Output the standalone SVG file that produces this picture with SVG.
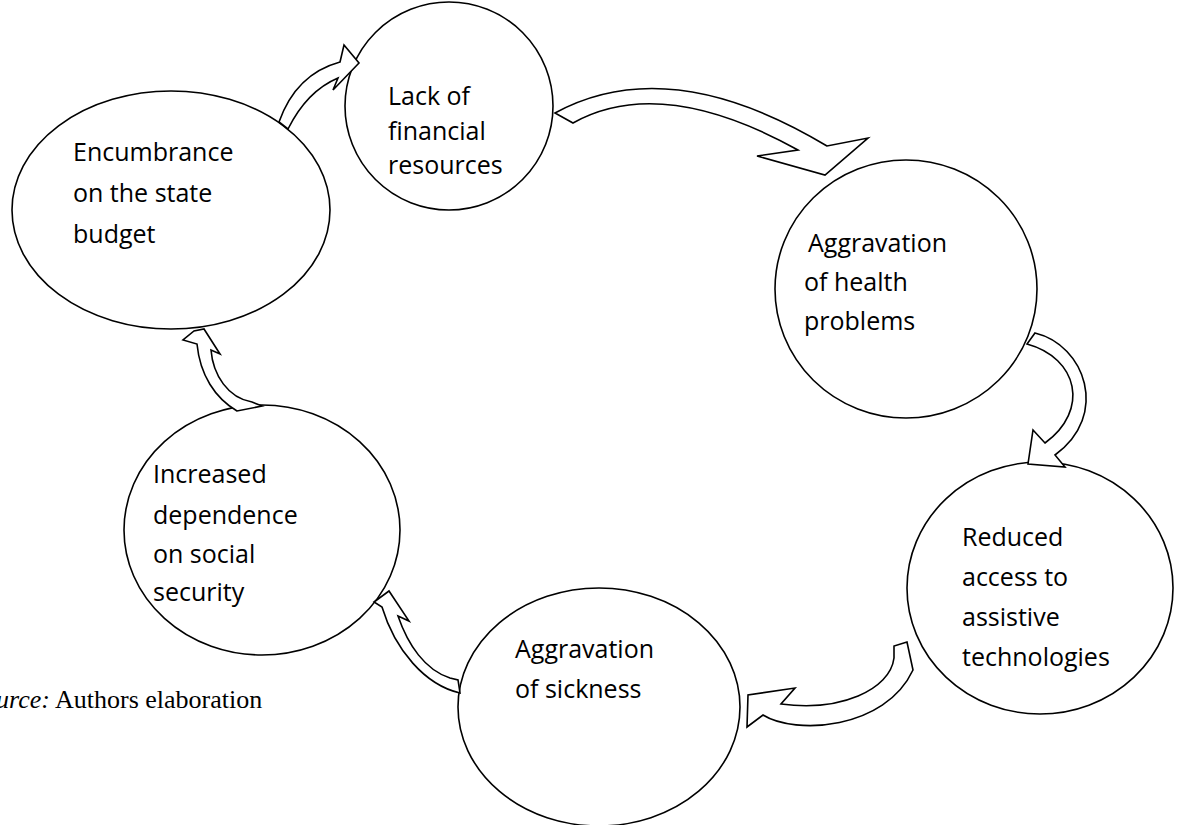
<svg xmlns="http://www.w3.org/2000/svg" width="1187" height="825" viewBox="0 0 1187 825">
<style>
.node{fill:#fff;stroke:#000;stroke-width:1.6}
.arr{fill:#fff;stroke:#000;stroke-width:1.6;stroke-linejoin:miter}
.lbl{font-family:"Open Sans","Noto Sans",sans-serif;font-size:25px;fill:#000}
.src{font-family:"Liberation Serif","Times New Roman",serif;font-size:26px;fill:#000}
</style>
<defs>
<clipPath id="clipDep"><rect x="120" y="405" width="280" height="203"/></clipPath>
</defs>
<rect width="1187" height="825" fill="#fff"/>
<g id="n-lack">
<ellipse class="node" cx="449" cy="106" rx="104" ry="104"/>
<text class="lbl"><tspan x="388" y="105">Lack of</tspan><tspan x="388" y="140">financial</tspan><tspan x="388" y="174">resources</tspan></text>
</g>
<g id="n-encumbrance">
<ellipse class="node" cx="171" cy="210" rx="159" ry="119"/>
<text class="lbl"><tspan x="73" y="161">Encumbrance</tspan><tspan x="73" y="202">on the state</tspan><tspan x="73" y="243">budget</tspan></text>
</g>
<g id="n-health">
<ellipse class="node" cx="906" cy="289" rx="131" ry="129"/>
<text class="lbl"><tspan x="808" y="252">Aggravation</tspan><tspan x="804" y="291">of health</tspan><tspan x="804" y="330">problems</tspan></text>
</g>
<g id="n-reduced">
<ellipse class="node" cx="1040" cy="588" rx="133" ry="126"/>
<text class="lbl"><tspan x="962" y="546">Reduced</tspan><tspan x="962" y="586">access to</tspan><tspan x="962" y="626">assistive</tspan><tspan x="962" y="666">technologies</tspan></text>
</g>
<g id="n-sickness">
<ellipse class="node" cx="599" cy="707" rx="141" ry="119"/>
<text class="lbl"><tspan x="515" y="658">Aggravation</tspan><tspan x="515" y="698">of sickness</tspan></text>
</g>
<g id="n-dependence">
<ellipse class="node" cx="262" cy="530" rx="138" ry="125"/>
<text class="lbl" clip-path="url(#clipDep)"><tspan x="153" y="483">Increased</tspan><tspan x="153" y="524">dependence</tspan><tspan x="153" y="563">on social</tspan><tspan x="153" y="601">security</tspan></text>
</g>
<g id="connectors">
<path class="arr" d="M279,122 Q296,74 340,62 L344,45 L359,63 L333,90 L338,78 Q307,91 288,129 Z"/>
<path class="arr" d="M555,113 Q669,51 827,146 L868,138 L825,175 L757,156 L798,150 Q661,74 573,123 Z"/>
<path class="arr" d="M1035,333 C1085,345 1110,415 1055,455 L1065,467 L1028,464 L1033,430 L1045,443 C1090,410 1078,358 1027,344 Z"/>
<path class="arr" d="M907,642 L894,646 L894,658 C890,690 840,712 781,704 L795,688 L748,695 L747,727 L763,715 C795,735 885,730 913,670 Z"/>
<path class="arr" d="M460,693 C425,685 395,650 382,607 L374,602 L389,591 L409,621 L398,616 C408,645 425,670 450,678 L458,680 Z"/>
<path class="arr" d="M237,411 C215,398 200,375 197,344 L183,340 L194,331 L204,329 L220,354 L211,350 C213,375 228,398 252,402 L262,406 Z"/>
</g>
<text class="src" x="-30" y="708"><tspan font-style="italic">Source:</tspan> Authors elaboration</text>
</svg>
